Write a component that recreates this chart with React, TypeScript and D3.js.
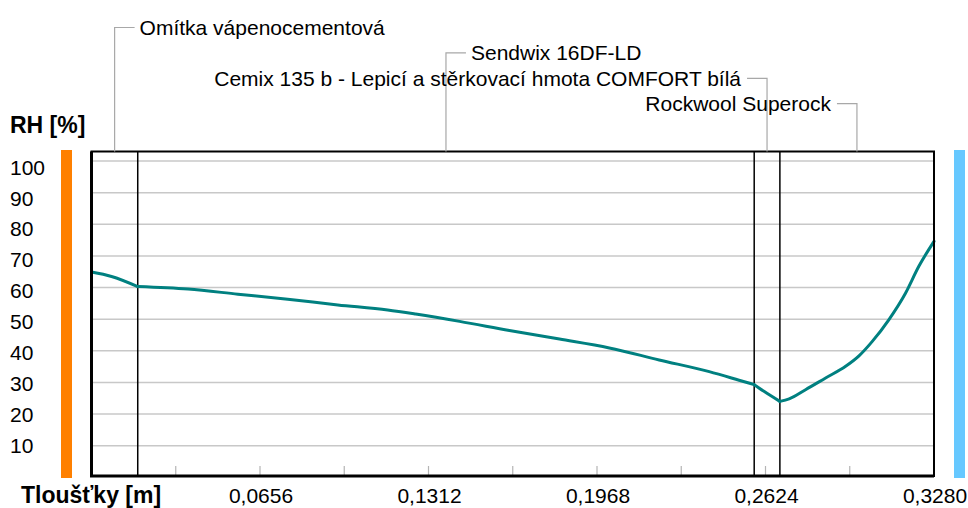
import { useEffect, useRef } from "react";
import * as d3 from "d3";

// Layers of the wall (name, thickness in m)
const layerNames = [
  "Omítka vápenocementová",
  "Sendwix 16DF-LD",
  "Cemix 135 b - Lepicí a stěrkovací hmota COMFORT bílá",
  "Rockwool Superock",
];
const layerThickness = [0.018, 0.24, 0.01, 0.06];

// RH profile
const depth = [
  0, 0.0078, 0.018, 0.0376, 0.057, 0.0764, 0.0959, 0.1153, 0.1262, 0.1433,
  0.1627, 0.1822, 0.2016, 0.221, 0.2405, 0.2521, 0.258, 0.2618, 0.268, 0.2716,
  0.278, 0.2858, 0.2936, 0.2988, 0.3039, 0.3104, 0.3169, 0.3221, 0.328,
];
const rh = [
  64.9, 63.5, 60.3, 59.5, 57.9, 56.3, 54.5, 52.9, 51.6, 49.3, 46.4, 43.7, 40.9,
  37.1, 33.4, 30.7, 29.3, 27.2, 24.0, 24.8, 27.7, 31.4, 35.1, 38.4, 42.9, 49.8,
  58.2, 66.7, 74.6,
];

const yTicks = [10, 20, 30, 40, 50, 60, 70, 80, 90, 100];
const xMinorTicks = [
  0.0328, 0.0656, 0.0984, 0.1312, 0.164, 0.1968, 0.2296, 0.2624, 0.2952,
];
const xLabels = [0.0656, 0.1312, 0.1968, 0.2624, 0.328];

const W = 968;
const H = 508;
const FONT = "'Liberation Sans', Arial, sans-serif";

export default function App() {
  const svgRef = useRef<SVGSVGElement>(null);

  useEffect(() => {
    if (!svgRef.current) return;
    const svg = d3.select(svgRef.current);
    svg.selectAll("*").remove();

    const x = d3.scaleLinear().domain([0, 0.328]).range([91.5, 934]);
    const y = d3.scaleLinear().domain([0, 100]).range([477.3, 161]);
    // tick labels sit on their own slightly tighter spacing
    const yLab = d3.scaleLinear().domain([10, 100]).range([445.5, 167]);

    const top = 151.5;
    const bottom = 476;

    svg.append("rect").attr("width", W).attr("height", H).attr("fill", "#fff");

    // side bars (interior / exterior)
    svg
      .append("rect")
      .attr("x", 61)
      .attr("y", 150)
      .attr("width", 11)
      .attr("height", 328)
      .attr("fill", "#ff8000");
    svg
      .append("rect")
      .attr("x", 954)
      .attr("y", 150)
      .attr("width", 11)
      .attr("height", 328)
      .attr("fill", "#66c8ff");

    // grid
    svg
      .append("g")
      .selectAll("line")
      .data(yTicks)
      .join("line")
      .attr("x1", x(0))
      .attr("x2", x(0.328))
      .attr("y1", (d) => y(d))
      .attr("y2", (d) => y(d))
      .attr("stroke", "#c8c8c8")
      .attr("stroke-width", 1.5);

    // minor ticks on bottom
    svg
      .append("g")
      .selectAll("line")
      .data(xMinorTicks)
      .join("line")
      .attr("x1", (d) => x(d))
      .attr("x2", (d) => x(d))
      .attr("y1", 466)
      .attr("y2", bottom)
      .attr("stroke", "#b4b4b4")
      .attr("stroke-width", 1.2);

    // layer boundaries
    const bounds = Array.from(d3.cumsum(layerThickness));
    const starts = [0, ...bounds.slice(0, -1)];
    svg
      .append("g")
      .selectAll("line")
      .data(bounds.slice(0, -1))
      .join("line")
      .attr("x1", (d) => x(d))
      .attr("x2", (d) => x(d))
      .attr("y1", top)
      .attr("y2", bottom)
      .attr("stroke", "#000")
      .attr("stroke-width", 1.5);

    // RH curve, smoothed inside each layer, kinked at the interfaces
    const pts = depth.map((d, i) => ({ d, v: rh[i] }));
    const line = d3
      .line<{ d: number; v: number }>()
      .x((p) => x(p.d))
      .y((p) => y(p.v))
      .curve(d3.curveMonotoneX);
    const eps = 1e-6;
    const segs = starts.map((s, i) =>
      pts.filter((p) => p.d >= s - eps && p.d <= bounds[i] + eps)
    );
    svg
      .append("g")
      .selectAll("path")
      .data(segs)
      .join("path")
      .attr("d", (s) => line(s))
      .attr("fill", "none")
      .attr("stroke", "#008080")
      .attr("stroke-width", 3)
      .attr("stroke-linejoin", "round")
      .attr("stroke-linecap", "round");

    // frame
    svg
      .append("rect")
      .attr("x", x(0))
      .attr("y", top)
      .attr("width", x(0.328) - x(0))
      .attr("height", bottom - top)
      .attr("fill", "none")
      .attr("stroke", "#000")
      .attr("stroke-width", 2);
    svg
      .append("path")
      .attr("d", `M${x(0)},${top}V${bottom}H${x(0.328)}`)
      .attr("fill", "none")
      .attr("stroke", "#000")
      .attr("stroke-width", 3);

    // y tick labels
    svg
      .append("g")
      .selectAll("text")
      .data(yTicks)
      .join("text")
      .attr("x", 10)
      .attr("y", (d) => yLab(d))
      .attr("dy", "0.36em")
      .attr("font-family", FONT)
      .attr("font-size", 21)
      .attr("fill", "#000")
      .text((d) => d);

    // x tick labels
    svg
      .append("g")
      .selectAll("text")
      .data(xLabels)
      .join("text")
      .attr("x", (d) => x(d) + 1)
      .attr("y", 503)
      .attr("text-anchor", "middle")
      .attr("font-family", FONT)
      .attr("font-size", 21)
      .attr("fill", "#000")
      .text((d) => d3.format(".4f")(d).replace(".", ","));

    // axis titles
    svg
      .append("text")
      .attr("x", 10)
      .attr("y", 133)
      .attr("font-family", FONT)
      .attr("font-weight", "bold")
      .attr("font-size", 23)
      .text("RH [%]");
    svg
      .append("text")
      .attr("x", 21)
      .attr("y", 503)
      .attr("font-family", FONT)
      .attr("font-weight", "bold")
      .attr("font-size", 23)
      .text("Tloušťky [m]");

    // layer name labels with leaders
    const labels = svg.append("g");
    layerNames.forEach((name, i) => {
      const mid = x(starts[i] + layerThickness[i] / 2);
      const ly = 27.5 + i * 25.4;
      const toRight = mid < (x(0) + x(0.328)) / 2;
      const hx = toRight ? mid + 20 : mid - 20;
      labels
        .append("path")
        .attr("d", `M${hx},${ly}H${mid}V${top}`)
        .attr("fill", "none")
        .attr("stroke", "#a8a8a8")
        .attr("stroke-width", 1.2);
      labels
        .append("text")
        .attr("x", toRight ? hx + 5 : hx - 6)
        .attr("y", ly)
        .attr("dy", "0.36em")
        .attr("text-anchor", toRight ? "start" : "end")
        .attr("font-family", FONT)
        .attr("font-size", 21)
        .attr("fill", "#000")
        .text(name);
    });
  }, []);

  return (
    <svg
      ref={svgRef}
      width={W}
      height={H}
      style={{ position: "absolute", left: 0, top: 0, display: "block" }}
    />
  );
}
